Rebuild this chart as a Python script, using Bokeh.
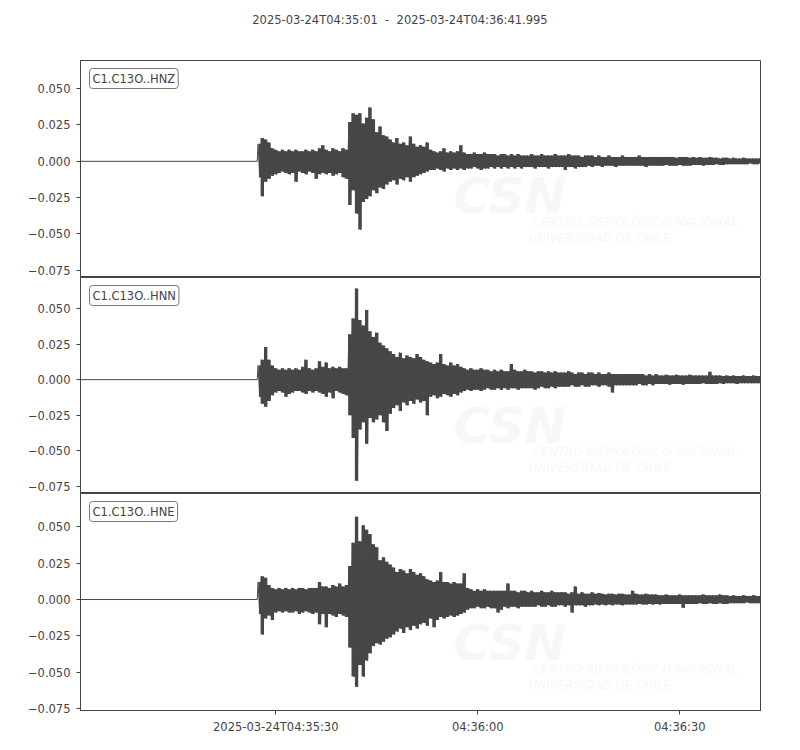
import numpy as np
from bokeh.plotting import figure
from bokeh.models import Range1d, FixedTicker, Label, ColumnDataSource, Div
from bokeh.layouts import column
from bokeh.embed import file_html
from bokeh.resources import INLINE

# ---------------- data ----------------
title_text = "2025-03-24T04:35:01  -  2025-03-24T04:36:41.995"
channels = ["C1.C13O..HNZ", "C1.C13O..HNN", "C1.C13O..HNE"]

# time axis: seconds after 2025-03-24T04:35:00
t_first = 1.0
t_last = 101.995
onset = 27.25          # first arrival
bin_w = 0.5            # width of each min/max bin (s)
amp_unit = 1e-3        # envelope values below are in units of 0.001

# per-bin maximum / minimum (150 bins each)
hnz_up = [12, 16, 15, 13, 9, 8, 7, 8, 7, 8,
          7, 8, 7, 7, 8, 7, 8, 7, 9, 11,
          8, 7, 9, 8, 7, 9, 8, 27, 33, 32,
          33, 26, 30, 37, 29, 20, 24, 18, 17, 15,
          13, 16, 12, 13, 11, 17, 12, 10, 11, 10,
          13, 8, 7, 6, 7, 9, 6, 7, 6, 7,
          11, 6, 5, 5, 6, 5, 5, 6, 5, 5,
          5, 4, 5, 5, 4, 5, 4, 5, 4, 4,
          4, 5, 4, 4, 5, 4, 4, 4, 5, 4,
          4, 4, 5, 4, 4, 4, 3, 4, 4, 4,
          3, 4, 3, 3, 4, 3, 3, 3, 4, 3,
          3, 3, 3, 4, 3, 3, 3, 3, 3, 3,
          3, 3, 3, 3, 2.5, 3, 3, 3, 2.5, 3,
          2.5, 3, 2.5, 2.5, 3, 2.5, 2.5, 2, 2.5, 2.5,
          2, 2.5, 2, 2, 2.5, 2, 2, 2, 2, 2]
hnz_lo = [-11, -24, -14, -12, -10, -9, -8, -7, -8, -9,
          -8, -14, -7, -8, -9, -7, -8, -12, -9, -8,
          -9, -8, -10, -9, -8, -11, -12, -30, -20, -36,
          -47, -28, -26, -24, -20, -22, -18, -19, -16, -14,
          -13, -16, -12, -13, -11, -14, -11, -10, -9, -8,
          -7, -6, -6, -5, -6, -7, -5, -6, -5, -6,
          -5, -6, -5, -5, -4, -5, -6, -5, -5, -4,
          -5, -4, -5, -4, -5, -4, -5, -4, -5, -4,
          -4, -4, -5, -4, -4, -4, -5, -4, -4, -4,
          -4, -6, -4, -4, -5, -4, -4, -4, -3, -4,
          -3, -3, -4, -3, -3, -3, -4, -3, -3, -3,
          -3, -3, -3, -3, -3, -4, -3, -3, -3, -3,
          -3, -2.5, -3, -3, -3, -2.5, -3, -3, -3, -2.5,
          -2.5, -2.5, -3, -2.5, -2.5, -2.5, -2, -2.5, -2.5, -2,
          -2, -2, -2, -2, -2, -2, -1.5, -2, -2, -1.5]

hnn_up = [10, 14, 23, 14, 10, 8, 7, 8, 7, 8,
          7, 8, 7, 9, 14, 8, 7, 8, 13, 9,
          12, 8, 9, 8, 9, 8, 8, 32, 43, 64,
          42, 38, 49, 34, 30, 33, 26, 24, 22, 20,
          18, 16, 19, 15, 17, 16, 15, 18, 16, 14,
          13, 12, 11, 12, 18, 11, 10, 12, 10, 11,
          9, 8, 7, 8, 7, 7, 8, 7, 7, 6,
          7, 6, 7, 6, 6, 11, 7, 6, 6, 7,
          6, 6, 5, 6, 6, 5, 6, 5, 6, 5,
          5, 5, 6, 5, 4, 5, 5, 4, 5, 5,
          4, 5, 4, 4, 5, 4, 4, 4, 4, 4,
          4, 4, 4, 4, 4, 3, 4, 3, 4, 3,
          3, 3.5, 3, 3, 3.5, 3, 3, 3, 3.5, 3,
          3, 3, 3, 3, 5.5, 3, 3, 3, 2.5, 3,
          2.5, 3, 2.5, 2.5, 3, 2.5, 2.5, 3, 2.5, 2.5]
hnn_lo = [-12, -17, -19, -15, -11, -9, -8, -9, -12, -10,
          -9, -8, -8, -9, -10, -8, -9, -8, -9, -10,
          -12, -9, -13, -8, -9, -10, -11, -25, -41, -71,
          -35, -30, -45, -27, -30, -28, -25, -30, -36, -24,
          -20, -18, -22, -16, -18, -15, -17, -14, -16, -15,
          -25, -12, -11, -13, -12, -10, -11, -12, -10, -11,
          -9, -8, -7, -8, -7, -7, -8, -7, -6, -7,
          -7, -6, -7, -6, -7, -6, -6, -7, -6, -6,
          -6, -6, -7, -6, -5, -6, -6, -5, -6, -5,
          -5, -5, -5, -4, -5, -5, -4, -5, -5, -4,
          -4, -5, -4, -4, -5, -9, -4, -4, -4, -4,
          -4, -4, -4, -3, -4, -4, -3, -4, -3, -3,
          -3, -3, -3.5, -3, -3, -3, -3.5, -3, -3, -3,
          -3, -3, -2.5, -3, -3, -3, -3, -2.5, -3, -2.5,
          -2.5, -2.5, -3, -2.5, -2.5, -2.5, -2.5, -2.5, -2.5, -2.5]

hne_up = [12, 16, 15, 10, 8, 7, 8, 7, 8, 7,
          8, 7, 8, 8, 7, 8, 8, 8, 12, 9,
          9, 8, 10, 9, 11, 9, 10, 23, 39, 57,
          40, 51, 48, 45, 38, 36, 27, 29, 26, 24,
          22, 19, 21, 20, 18, 21, 19, 17, 18, 16,
          14, 13, 12, 13, 19, 12, 12, 11, 12, 11,
          11, 18, 8, 7, 6, 7, 6, 7, 6, 6,
          6, 6, 6, 6, 11, 6, 6, 5, 6, 6,
          5, 6, 5, 5, 6, 5, 5, 6, 5, 5,
          5, 5, 4, 5, 9, 4, 5, 4, 4, 5,
          4, 4.5, 4, 3.5, 4, 4, 3.5, 4, 4, 3.5,
          3.5, 6, 4, 3.5, 3.5, 4, 3.5, 3.5, 3.5, 3,
          3, 3.5, 3, 3, 3, 3.5, 3, 3, 3, 3,
          3, 3, 3.5, 3, 3, 3, 3, 3.5, 3, 3,
          2.5, 3, 2.5, 2.5, 3, 2.5, 2.5, 3, 2.5, 2.5]
hne_lo = [-10, -24, -13, -11, -14, -9, -8, -9, -8, -9,
          -9, -8, -10, -9, -8, -9, -10, -9, -17, -10,
          -19, -10, -11, -12, -10, -11, -12, -33, -53, -60,
          -45, -53, -42, -37, -32, -30, -31, -29, -27, -26,
          -24, -22, -20, -23, -19, -21, -18, -20, -17, -16,
          -18, -13, -19, -14, -12, -13, -12, -11, -12, -11,
          -10, -9, -7, -6, -6, -5, -6, -6, -5, -6,
          -6, -9, -7, -5, -6, -5, -5, -6, -5, -5,
          -5, -5, -5, -4, -5, -5, -4, -5, -5, -4,
          -4, -5, -4, -9, -4, -4, -4, -5, -4, -4,
          -3.5, -4, -3.5, -4, -3.5, -4, -3.5, -3.5, -4, -3.5,
          -3.5, -3.5, -3.5, -3, -3.5, -3.5, -3, -3.5, -3, -3.5,
          -3, -3, -3, -3, -3, -3, -5.7, -3, -3, -3,
          -3, -2.5, -3, -3, -2.5, -3, -3, -2.5, -3, -3,
          -2.5, -2.5, -2.5, -2.5, -2.5, -2, -2.5, -2.5, -2.5, -2.5]

xtick_vals = [30, 60, 90]
xtick_labels = ["2025-03-24T04:35:30", "04:36:00", "04:36:30"]
ytick_vals = [-0.075, -0.05, -0.025, 0.0, 0.025, 0.05]
ytick_labels = ["\u22120.075", "\u22120.050", "\u22120.025", "0.000", "0.025", "0.050"]
y_limits = [(-0.0800, 0.0694), (-0.0800, 0.0718), (-0.0763, 0.0729)]

# ---------------- style ----------------
FONT = "DejaVu Sans"
FS = "11.5px"
INK = "#444444"
TRACE = "#474747"
WM = "#f7f7f7"
wm_lift = [14, 0, 0]


def build_trace(up, lo):
    n = len(up)
    starts = onset + bin_w * np.arange(n)
    up_v = np.asarray(up, dtype=float) * amp_unit
    lo_v = np.asarray(lo, dtype=float) * amp_unit
    # zig-zag through the per-bin extremes
    xs = np.empty(2 * n)
    ys = np.empty(2 * n)
    xs[0::2] = starts + bin_w * 0.25
    xs[1::2] = starts + bin_w * 0.75
    ys[0::2] = up_v
    ys[1::2] = lo_v
    xs = np.concatenate([[t_first, onset], xs])
    ys = np.concatenate([[0.0, 0.0], ys])
    # min/max columns per bin
    band = dict(x=starts + bin_w * 0.5, lo=lo_v, up=up_v)
    return xs, ys, band


traces = [(hnz_up, hnz_lo), (hnn_up, hnn_lo), (hne_up, hne_lo)]
x_range = Range1d(t_first, t_last)

heights = [237, 216, 247]
borders_top = [20, 0, 0]
borders_bottom = [0, 0, 30]
frame_h = [217, 216, 217]

title_div = Div(text=title_text, width=800, height=40,
                styles={"text-align": "center", "line-height": "40px",
                        "font-family": FONT, "font-size": FS, "color": INK,
                        "white-space": "pre", "margin": "0", "padding": "0"})

figs = []
for k in range(3):
    p = figure(width=780, height=heights[k], x_range=x_range,
               y_range=Range1d(*y_limits[k]),
               output_backend="svg", toolbar_location=None,
               x_axis_location="below" if k == 2 else None,
               min_border_left=80, min_border_right=20,
               min_border_top=borders_top[k], min_border_bottom=borders_bottom[k])
    p.background_fill_color = "white"
    p.border_fill_color = "white"
    p.outline_line_color = INK
    p.outline_line_width = 1
    p.xgrid.visible = False
    p.ygrid.visible = False

    # faint watermark
    for txt, dx, dy, fs, style in [("CSN", 373, 68, "50px", "bold italic"),
                                   ("CENTRO SISMOLÓGICO NACIONAL", 452, 42, "12px", "italic"),
                                   ("UNIVERSIDAD DE CHILE", 448, 26, "12px", "italic")]:
        p.add_layout(Label(x=dx, y=dy + wm_lift[k], x_units="screen", y_units="screen",
                           text=txt, text_font=FONT, text_font_size=fs,
                           text_font_style=style, text_color=WM,
                           text_baseline="alphabetic", level="underlay"))

    xs, ys, band = build_trace(*traces[k])
    bsrc = ColumnDataSource(band)
    p.varea_step(x="x", y1="lo", y2="up", source=bsrc, step_mode="center",
                 fill_color=TRACE)
    src = ColumnDataSource(dict(x=xs, y=ys))
    p.line("x", "y", source=src, line_color=TRACE, line_width=1.0)

    yax = p.yaxis[0]
    yax.ticker = FixedTicker(ticks=ytick_vals)
    yax.major_label_overrides = dict(zip(ytick_vals, ytick_labels))
    yax.minor_tick_line_color = None
    yax.major_tick_in = 0
    yax.major_tick_out = 4
    yax.major_label_standoff = 6
    yax.axis_line_color = INK
    yax.major_tick_line_color = INK
    yax.major_label_text_color = INK
    yax.major_label_text_font = FONT
    yax.major_label_text_font_size = FS

    if k == 2:
        xax = p.xaxis[0]
        xax.ticker = FixedTicker(ticks=xtick_vals)
        xax.major_label_overrides = dict(zip(xtick_vals, xtick_labels))
        xax.minor_tick_line_color = None
        xax.major_tick_in = 0
        xax.major_tick_out = 4
        xax.major_label_standoff = 5
        xax.axis_line_color = INK
        xax.major_tick_line_color = INK
        xax.major_label_text_color = INK
        xax.major_label_text_font = FONT
        xax.major_label_text_font_size = FS

    p.add_layout(Label(x=9, y=frame_h[k] - 8, x_units="screen", y_units="screen",
                       text=channels[k], text_font=FONT, text_font_size=FS,
                       text_color=INK, text_align="left", text_baseline="top",
                       padding=3, border_radius=3,
                       border_line_color="#777777", border_line_width=1,
                       background_fill_color="white"))
    figs.append(p)

layout = column(title_div, *figs, spacing=0)
open("out.html", "w").write(file_html(layout, INLINE))
